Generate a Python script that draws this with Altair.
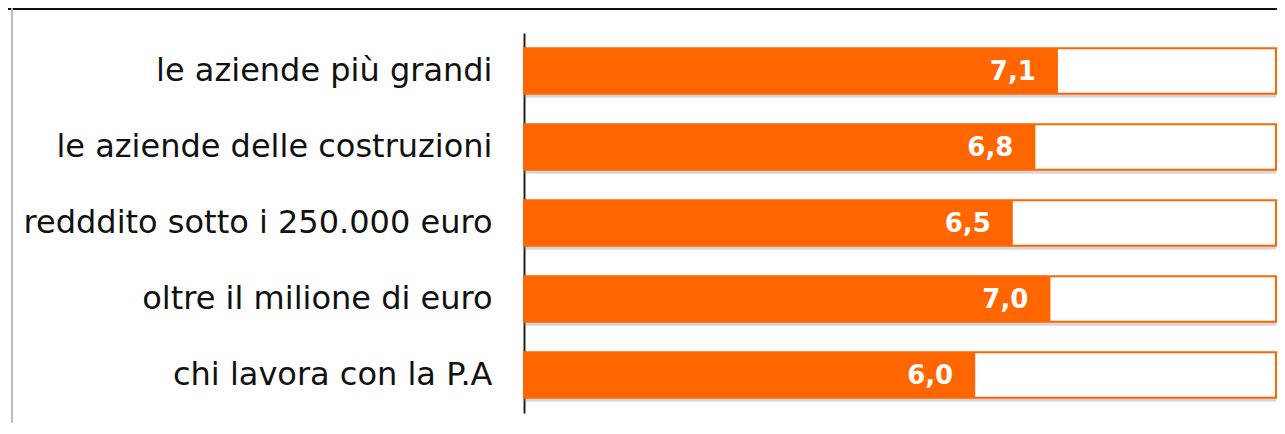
import altair as alt
import pandas as pd

categories = [
    "le aziende più grandi",
    "le aziende delle costruzioni",
    "redddito sotto i 250.000 euro",
    "oltre il milione di euro",
    "chi lavora con la P.A",
]
values = [7.1, 6.8, 6.5, 7.0, 6.0]
scale_max = 10

df = pd.DataFrame({
    "cat": categories,
    "val": values,
    "full": [scale_max] * len(values),
    "zero": [0] * len(values),
    "label": [f"{v:.1f}".replace(".", ",") for v in values],
})

ORANGE = "#FF6600"
FONT = "DejaVu Sans"

xs = alt.Scale(domain=[0, scale_max], nice=False, zero=True)
ysort = categories
yenc = alt.Y("cat:N", sort=ysort, scale=alt.Scale(paddingInner=0.4, paddingOuter=0.2),
             axis=alt.Axis(title=None, ticks=False, domain=True, domainColor="#222",
                           domainWidth=2, labelFont=FONT, labelFontSize=32,
                           labelColor="#111", labelPadding=32, labelLimit=600))

base = alt.Chart(df)

shadow = base.mark_bar(color="#777777", opacity=0.3, yOffset=4).encode(
    x=alt.X("zero:Q", scale=xs, axis=None), x2="full:Q", y=yenc)

outline = base.mark_bar(fill="white", stroke=ORANGE, strokeWidth=2).encode(
    x=alt.X("zero:Q", scale=xs, axis=None), x2="full:Q", y=yenc)

filled = base.mark_bar(color=ORANGE).encode(
    x=alt.X("zero:Q", scale=xs, axis=None), x2="val:Q", y=yenc)

text = base.mark_text(align="right", baseline="middle", dx=-22, dy=1, color="white",
                      font=FONT, fontWeight="bold", fontSize=26).encode(
    x=alt.X("val:Q", scale=xs, axis=None), y=yenc, text="label:N")

top_black = base.mark_rule(color="#111", strokeWidth=2).encode(
    x=alt.value(-530), x2=alt.value(780), y=alt.value(-24))
top_gray = base.mark_rule(color="#bbbbbb", strokeWidth=1).encode(
    x=alt.value(-530), x2=alt.value(780), y=alt.value(-27))
left_gray = base.mark_rule(color="#bbbbbb", strokeWidth=1).encode(
    x=alt.value(-512), y=alt.value(-25), y2=alt.value(410))

chart = alt.layer(shadow, outline, filled, text, top_gray, top_black, left_gray).properties(
    width=752, height=380,
    background="white",
    autosize=alt.AutoSizeParams(type="none"),
    padding={"left": 516, "top": 25, "right": 1, "bottom": 10},
).configure_view(stroke=None)

chart.save("out.html", embed_options={"renderer": "svg", "actions": False})
